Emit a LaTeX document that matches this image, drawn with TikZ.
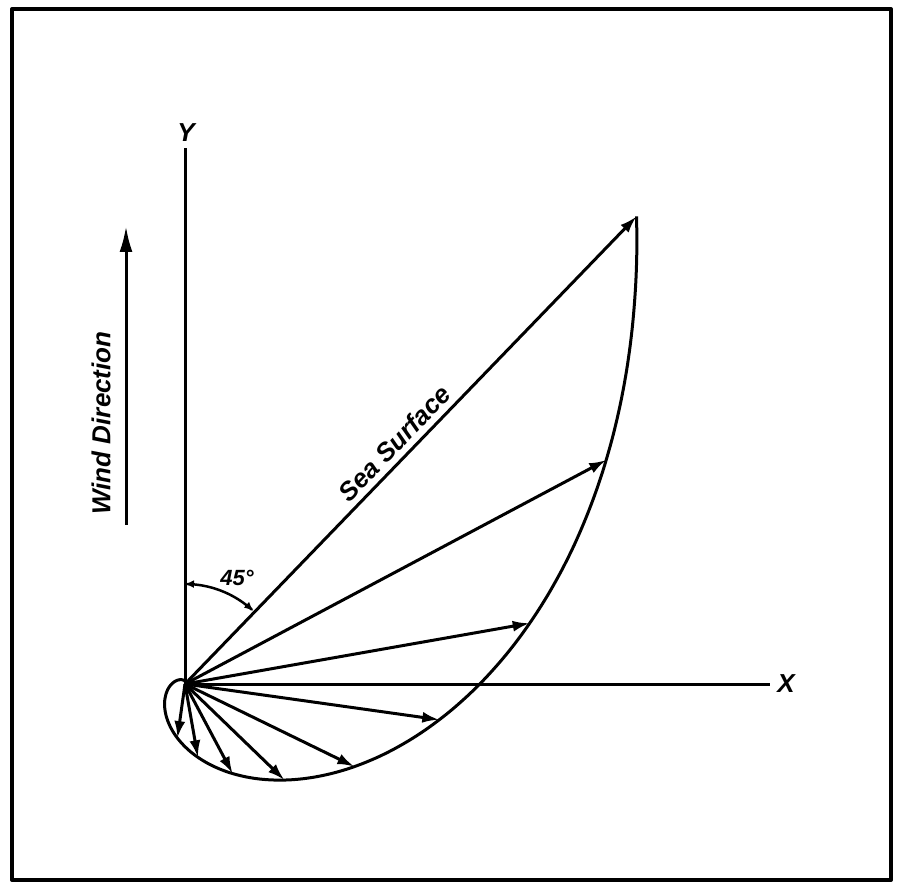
\documentclass[tikz,border=0pt]{standalone}
\usepackage{fontspec}
\setmainfont{Liberation Sans}
\usetikzlibrary{arrows.meta}
\begin{document}
\begin{tikzpicture}[x=1pt,y=-1pt,line join=round,
  ln/.style={line width=3pt},
  tip/.style={-{Latex[length=17pt,width=11pt]}},
  lbl/.style={font=\bfseries\itshape\fontsize{26}{26}\selectfont,inner sep=0pt}]
\useasboundingbox (0,0) rectangle (898,885);
\fill[white] (0,0) rectangle (898,885);
\draw[line width=4pt] (12,9) rectangle (891,880);
% axes
\coordinate (O) at (185,684);
\coordinate (Ytop) at (185,148);
\coordinate (Xend) at (770,684);
\draw[ln] (O) -- (Ytop);
\draw[ln] (O) -- (Xend);
\node[lbl] (ylab) at (186,133) {Y};
\node[lbl] (xlab) at (786,684) {X};
% spiral curve
\draw[ln] plot[domain=0:320,samples=220,smooth,variable=\t]
  ({185+650*exp(-0.0172*\t-0.0000075*\t*\t)*sin(44+\t)},
   {684-650*exp(-0.0172*\t-0.0000075*\t*\t)*cos(44+\t)});
% current vectors
\foreach \k in {0,...,8}{
  \pgfmathsetmacro\tt{18*\k}
  \pgfmathsetmacro\rr{650*exp(-0.0172*\tt-0.0000075*\tt*\tt)}
  \coordinate (P\k) at ({185+\rr*sin(44+\tt)},{684-\rr*cos(44+\tt)});
  \draw[ln,tip] (O) -- (P\k);
}
% sea surface label
\path (O) -- (P0) node[lbl,pos=0.49,sloped,above=7pt] (sea) {Sea Surface};
% 45 degree arc
\draw[line width=2.5pt,{Latex[length=9pt,width=8pt]}-{Latex[length=9pt,width=8pt]}]
  plot[domain=0:43,samples=30,smooth] ({185+100*sin(\x)},{684-100*cos(\x)});
\node[lbl,font=\bfseries\itshape\fontsize{22}{22}\selectfont] (ang) at (237,578) {45°};
% wind direction
\coordinate (W1) at (126,525);
\coordinate (W2) at (126,226);
\draw[ln,-{Latex[length=26pt,width=13pt]}] (W1) -- (W2);
\node[lbl,rotate=90] (wind) at (101,423) {Wind Direction};
\end{tikzpicture}
\end{document}
